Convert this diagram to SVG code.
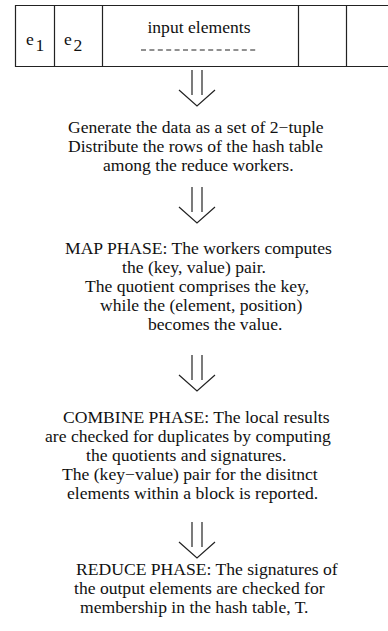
<svg xmlns="http://www.w3.org/2000/svg" width="388" height="631" viewBox="0 0 388 631">
<style>
text{font-family:"Liberation Serif","Times New Roman",serif;font-size:17.6px;fill:#111}
.ln{stroke:#222;stroke-width:1.2;fill:none}
</style>
<defs>
<g id="arr" class="ln"><line x1="-5" y1="0" x2="-5" y2="25"/><line x1="5" y1="0" x2="5" y2="25"/><polyline points="-18,20 0,36 18,20"/></g>
</defs>
<rect width="388" height="631" fill="#fff"/>
<g id="input-array">
<path class="ln" d="M15 5.5H390M15 66.5H390M15.5 5V67M54.5 5V67M102.5 5V67M298.5 5V67M346.5 5V67"/>
<text x="26" y="45">e</text><text x="35.5" y="51">1</text>
<text x="64" y="45">e</text><text x="73.5" y="51">2</text>
<text x="199" y="33" text-anchor="middle">input elements</text>
<line class="ln" x1="141" y1="50" x2="258" y2="50" stroke-dasharray="5 3.4"/>
</g>
<g id="connectors">
<use href="#arr" x="197" y="70"/>
<use href="#arr" x="197" y="187"/>
<use href="#arr" x="197" y="355"/>
<use href="#arr" x="197" y="522"/>
</g>
<g id="generate">
<text x="68" y="133">Generate the data as a set of 2−tuple</text>
<text x="68" y="152">Distribute the rows of the hash table</text>
<text x="103" y="171">among the reduce workers.</text>
</g>
<g id="map">
<text x="65" y="254">MAP PHASE: The workers computes</text>
<text x="122" y="273">the (key, value) pair.</text>
<text x="85" y="292">The quotient comprises the key,</text>
<text x="100" y="311">while the (element, position)</text>
<text x="148" y="330">becomes the value.</text>
</g>
<g id="combine">
<text x="63" y="423">COMBINE PHASE: The local results</text>
<text x="45" y="442">are checked for duplicates by computing</text>
<text x="86" y="461">the quotients and signatures.</text>
<text x="62" y="480">The (key−value) pair for the disitnct</text>
<text x="67" y="499">elements within a block is reported.</text>
</g>
<g id="reduce">
<text x="76" y="575">REDUCE PHASE: The signatures of</text>
<text x="74" y="594">the output elements are checked for</text>
<text x="80" y="613">membership in the hash table, T.</text>
</g>
</svg>
